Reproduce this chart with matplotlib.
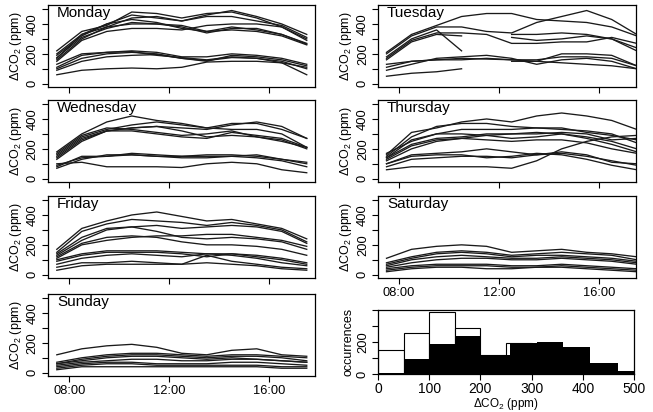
import numpy as np
import matplotlib
matplotlib.use("Agg")
import matplotlib.pyplot as plt

nan = np.nan

# hourly time grid, 07:30 ... 17:30 (decimal hours)
hours = [7.5, 8.5, 9.5, 10.5, 11.5, 12.5, 13.5, 14.5, 15.5, 16.5, 17.5]
time_ticks = [8, 12, 16]
time_labels = ["08:00", "12:00", "16:00"]

# CO2 enhancement curves per weekday (ppm), one row per day observed
monday = [
    [170, 330, 400, 460, 440, 420, 460, 490, 450, 400, 330],
    [220, 350, 390, 480, 470, 440, 470, 480, 440, 380, 290],
    [160, 300, 380, 400, 400, 380, 340, 370, 370, 330, 270],
    [190, 320, 400, 430, 410, 370, 350, 360, 350, 320, 260],
    [150, 290, 350, 370, 370, 360, 390, 400, 400, 380, 300],
    [200, 330, 380, 440, 450, 420, 450, 450, 420, 390, 310],
    [175, 310, 370, 410, 400, 390, 350, 380, 360, 330, 265],
    [60, 90, 100, 105, 100, 110, 145, 150, 150, 140, 60],
    [100, 170, 200, 210, 200, 170, 150, 190, 180, 160, 120],
    [110, 190, 210, 220, 210, 180, 180, 200, 190, 170, 130],
    [90, 150, 180, 190, 195, 170, 155, 175, 170, 140, 110],
    [130, 200, 210, 215, 190, 175, 160, 180, 170, 150, 100],
]
tuesday = [
    [210, 330, 390, 450, 470, 470, 430, 420, 410, 380, 320],
    [200, 320, 380, 380, 350, 340, 410, 450, 490, 430, 330],
    [180, 300, 360, 220, nan, 310, 290, 300, 320, 300, 240],
    [170, 290, 340, 340, 330, 270, 270, 280, 280, 310, 270],
    [160, 280, 330, 320, nan, 330, 330, 340, 330, 300, 220],
    [110, 150, 160, 160, 170, 160, 160, 180, 180, 170, 120],
    [90, 130, 170, 180, 190, 170, 130, 160, 170, 150, 100],
    [50, 70, 80, 100, nan, 150, 150, 140, 130, 120, 100],
    [130, 150, 160, 170, 165, 160, 150, 200, 200, 190, 120],
]
wednesday = [
    [180, 300, 380, 420, 390, 370, 340, 330, 330, 300, 210],
    [160, 280, 330, 360, 380, 360, 340, 370, 370, 330, 270],
    [150, 270, 320, 340, 350, 340, 330, 360, 380, 350, 270],
    [140, 260, 320, 320, 300, 280, 270, 310, 290, 270, 210],
    [170, 290, 340, 330, 310, 290, 300, 320, 280, 250, 210],
    [130, 250, 320, 340, 350, 320, 280, 290, 280, 260, 200],
    [90, 140, 150, 160, 150, 150, 160, 160, 150, 130, 100],
    [80, 150, 150, 170, 160, 150, 150, 150, 140, 120, 80],
    [70, 130, 160, 160, 150, 140, 140, 150, 160, 130, 110],
    [100, 110, 80, 80, 80, 75, 100, 110, 100, 60, 40],
]
thursday = [
    [160, 310, 340, 380, 400, 380, 420, 440, 420, 390, 330],
    [150, 280, 350, 370, 370, 350, 340, 340, 310, 290, 260],
    [170, 250, 300, 300, 290, 270, 280, 300, 270, 230, 180],
    [140, 230, 270, 280, 300, 300, 310, 300, 280, 250, 200],
    [130, 220, 260, 270, 260, 250, 260, 260, 240, 200, 170],
    [120, 200, 250, 270, 290, 300, 300, 310, 300, 260, 270],
    [100, 160, 170, 180, 200, 180, 160, 170, 150, 120, 90],
    [80, 130, 140, 150, 150, 140, 160, 180, 160, 110, 100],
    [60, 80, 80, 80, 80, 70, 120, 200, 250, 280, 290],
    [100, 150, 160, 160, 140, 150, 170, 160, 130, 90, 60],
    [140, 260, 300, 330, 330, 330, 340, 330, 320, 300, 240],
]
friday = [
    [170, 310, 360, 400, 420, 390, 360, 370, 340, 310, 240],
    [150, 290, 340, 370, 360, 350, 330, 350, 330, 300, 220],
    [140, 250, 310, 320, 330, 310, 320, 330, 320, 290, 210],
    [130, 230, 300, 320, 290, 250, 240, 250, 240, 220, 170],
    [120, 210, 250, 260, 250, 220, 200, 200, 190, 170, 130],
    [110, 200, 230, 250, 260, 260, 270, 270, 250, 230, 190],
    [100, 140, 160, 160, 160, 150, 140, 140, 130, 110, 80],
    [90, 130, 150, 150, 150, 140, 120, 140, 120, 100, 70],
    [70, 110, 130, 140, 130, 120, 140, 130, 110, 80, 60],
    [50, 80, 80, 90, 80, 70, 130, 90, 70, 50, 40],
    [30, 60, 70, 70, 70, 70, 80, 70, 60, 40, 30],
]
saturday = [
    [110, 170, 190, 200, 190, 150, 160, 170, 150, 140, 120],
    [80, 120, 150, 160, 150, 130, 140, 150, 140, 130, 100],
    [70, 110, 140, 150, 140, 120, 130, 130, 120, 110, 90],
    [60, 100, 120, 130, 120, 110, 110, 120, 110, 100, 80],
    [50, 80, 100, 110, 110, 100, 100, 110, 100, 90, 70],
    [30, 50, 60, 60, 60, 50, 50, 60, 50, 40, 30],
    [40, 60, 70, 70, 70, 60, 60, 70, 60, 50, 40],
    [20, 40, 50, 50, 40, 40, 50, 50, 40, 30, 20],
]
sunday = [
    [120, 160, 180, 190, 170, 130, 120, 150, 160, 120, 110],
    [70, 100, 120, 130, 130, 120, 110, 120, 120, 110, 100],
    [60, 90, 110, 120, 120, 110, 100, 110, 110, 100, 80],
    [50, 70, 80, 90, 90, 80, 80, 90, 90, 80, 70],
    [40, 60, 70, 70, 60, 60, 60, 70, 70, 60, 50],
    [20, 40, 40, 40, 40, 40, 40, 40, 40, 30, 30],
    [30, 50, 60, 60, 50, 50, 50, 50, 50, 40, 40],
    [60, 80, 100, 110, 110, 100, 90, 100, 90, 80, 70],
]

# histogram of CO2 enhancement: two distributions
white_edges = [0, 50, 100, 150, 200, 250, 300]
white_counts = [150, 256, 390, 285, 117, 194]
black_edges = [0, 50, 100, 150, 200, 258, 310, 362, 415, 468, 520]
black_counts = [8, 94, 187, 240, 117, 194, 202, 171, 67, 17]

plt.rcParams["font.family"] = ["Liberation Sans", "DejaVu Sans"]
plt.rcParams["mathtext.fontset"] = "custom"
plt.rcParams["mathtext.rm"] = "Liberation Sans"

W, H = 653, 412
fig = plt.figure(figsize=(W / 100, H / 100), dpi=100)


def px_axes(left, top, right, bottom):
    return fig.add_axes([left / W, 1 - bottom / H, (right - left) / W, (bottom - top) / H])


def style(ax):
    for s in ax.spines.values():
        s.set_linewidth(0.9)
    ax.tick_params(direction="out", length=4.5, width=0.8, labelsize=9.3, pad=2)


ylab = r"$\Delta$CO$_2$ (ppm)"
panels = [
    ("Monday", monday, (47.7, 5, 315, 87), "L", False),
    ("Tuesday", tuesday, (378, 5, 636, 87), "R", False),
    ("Wednesday", wednesday, (47.7, 100, 315, 182), "L", False),
    ("Thursday", thursday, (378, 100, 636, 182), "R", False),
    ("Friday", friday, (47.7, 196, 315, 278), "L", False),
    ("Saturday", saturday, (378, 196, 636, 278), "R", True),
    ("Sunday", sunday, (47.7, 294, 315, 376), "L", True),
]

for name, curves, box, col, show_x in panels:
    ax = px_axes(*box)
    for c in curves:
        ax.plot(hours, c, color="0.1", lw=0.95)
    if col == "L":
        ax.set_xlim(7.136, 17.83)
    else:
        ax.set_xlim(7.16, 17.47)
    ax.set_ylim(-22, 527)
    ax.set_yticks([0, 100, 200, 300, 400, 500])
    ax.set_yticklabels(["0", "", "200", "", "400", ""], rotation=90, va="center")
    ax.set_xticks(time_ticks)
    ax.set_xticklabels(time_labels if show_x else [])
    ax.set_ylabel(ylab, fontsize=9, labelpad=2)
    ax.text(0.035, 0.99, name, transform=ax.transAxes, ha="left", va="top", fontsize=11)
    style(ax)

# histogram panel
ax = px_axes(378, 310, 634, 374)
ax.bar(white_edges[:-1], white_counts, width=np.diff(white_edges), align="edge",
       facecolor="white", edgecolor="black", linewidth=0.8)
ax.bar(black_edges[:-1], black_counts, width=np.diff(black_edges), align="edge",
       color="black", linewidth=0)
ax.set_xlim(0, 500)
ax.set_ylim(0, 400)
ax.set_xticks([0, 100, 200, 300, 400, 500])
ax.set_yticks([0, 100, 200, 300, 400])
ax.set_yticklabels(["0", "", "200", "", ""], rotation=90, va="center")
ax.set_ylabel("occurrences", fontsize=9, labelpad=2)
ax.set_xlabel(ylab, fontsize=8.5, labelpad=0)
style(ax)
ax.tick_params(axis="x", labelsize=10, pad=1)

fig.savefig("out.png", dpi=100)
